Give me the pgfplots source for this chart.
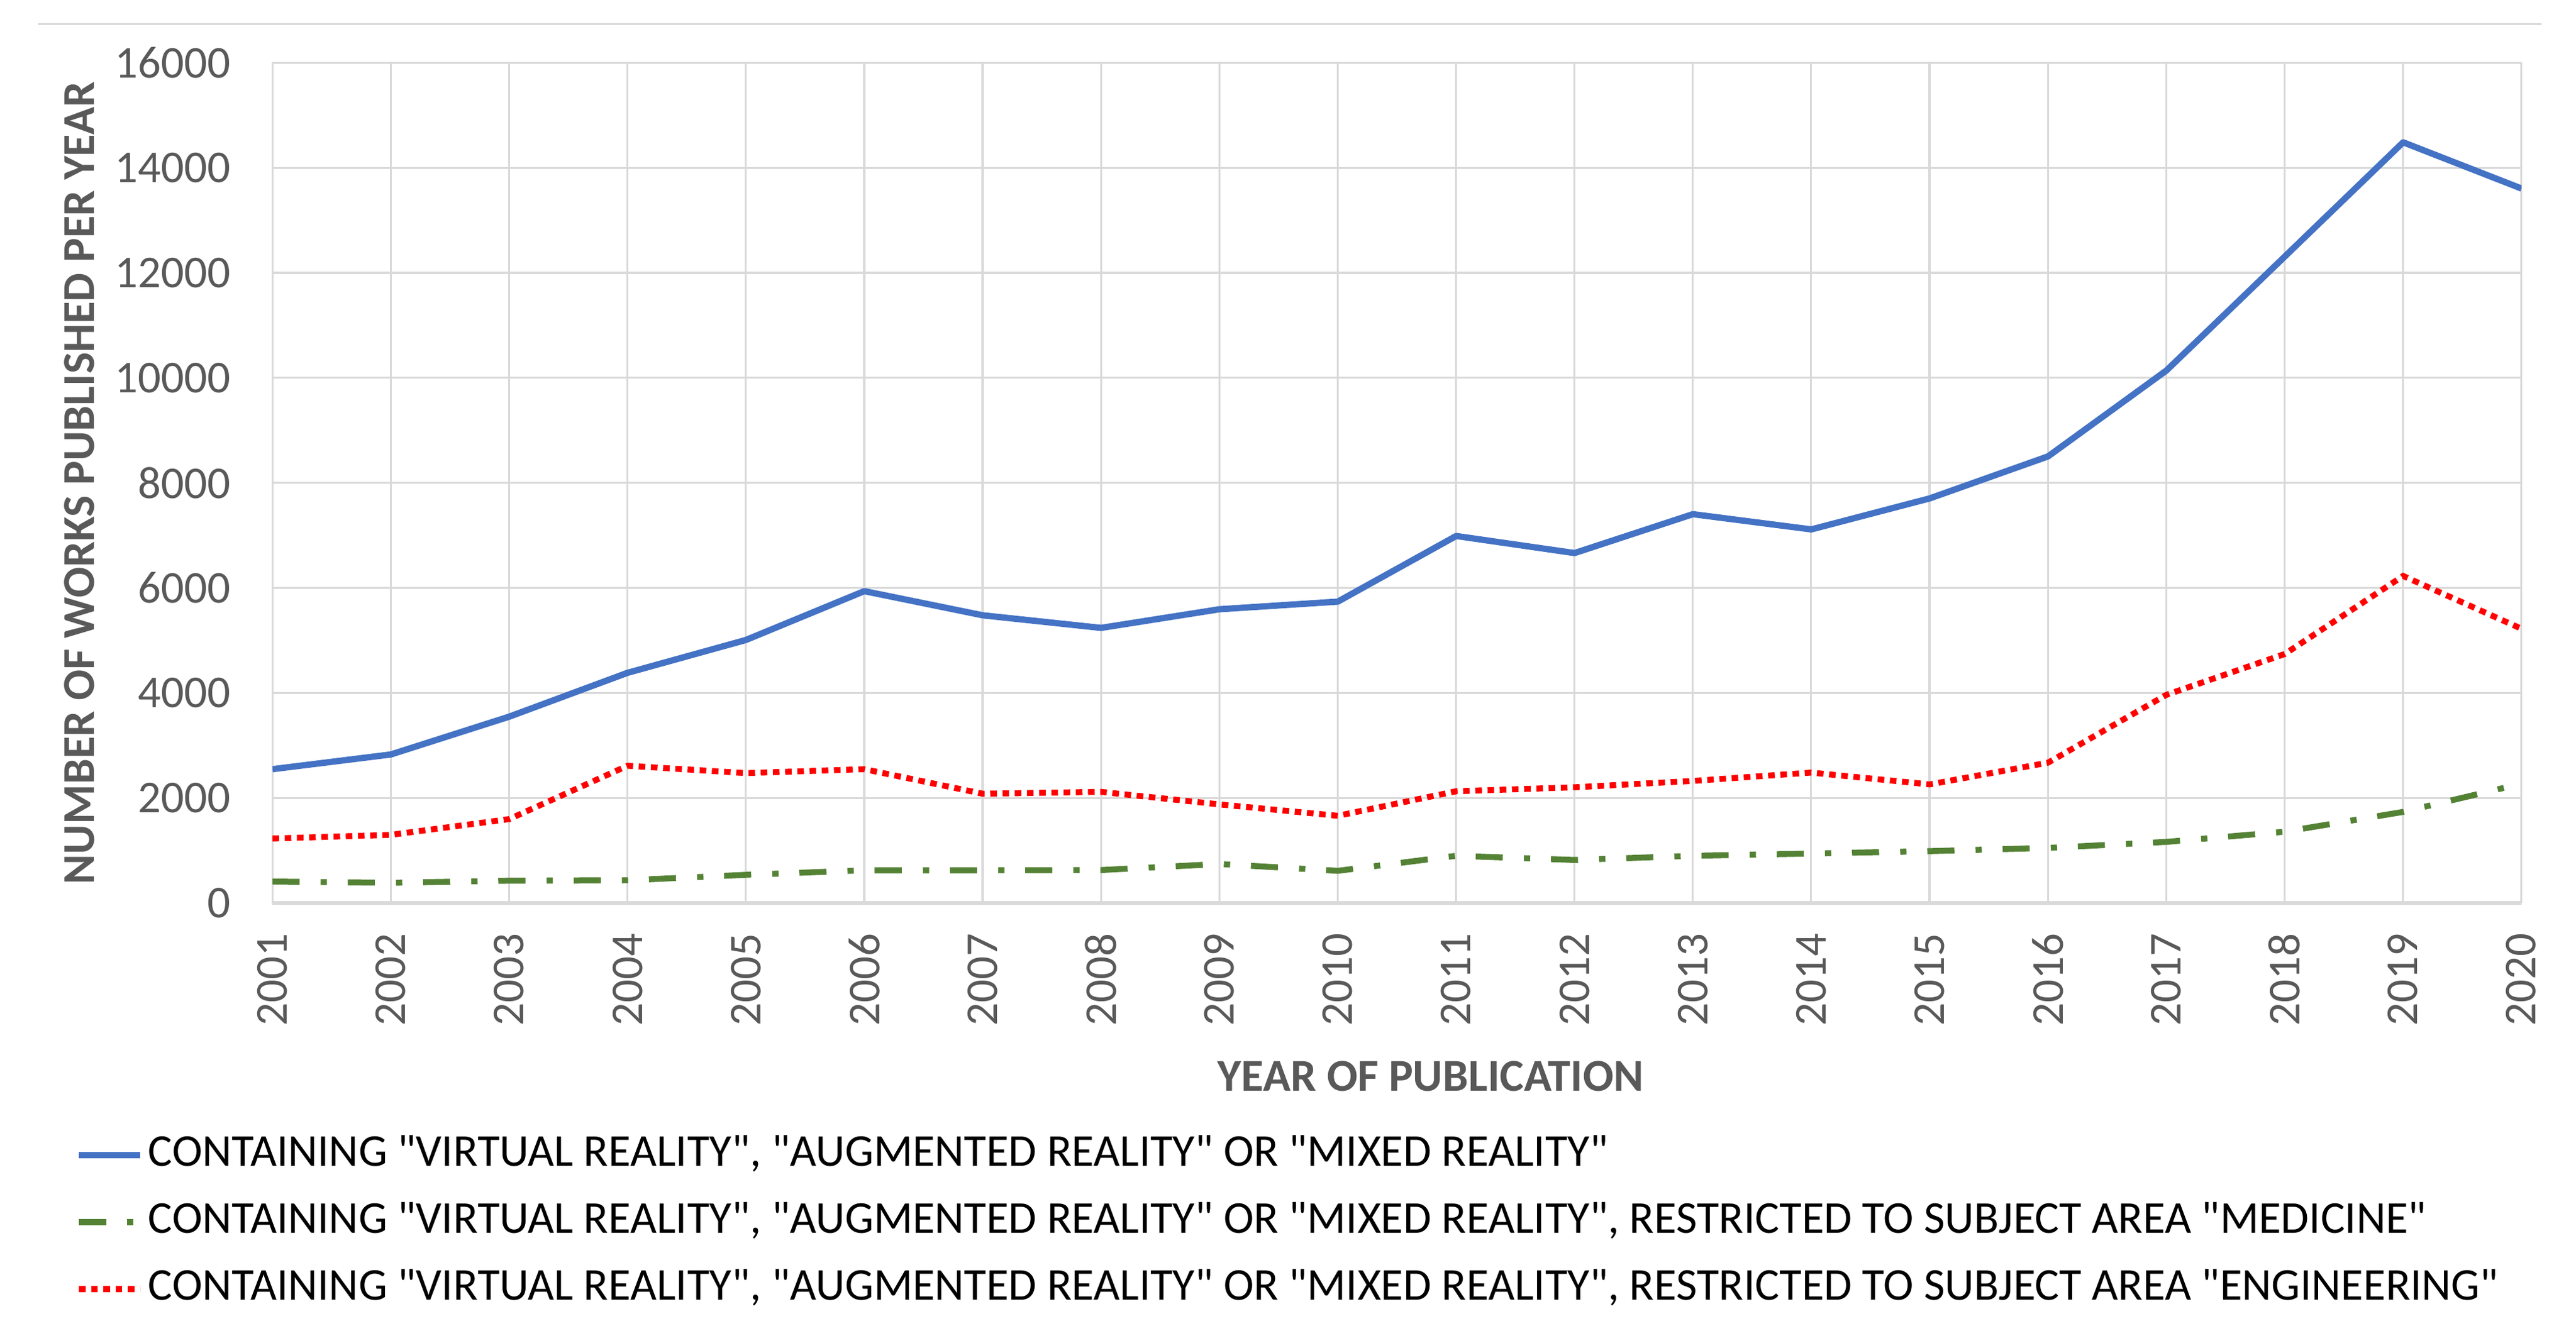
\documentclass[border=0pt]{standalone}
\usepackage{fontspec}
\setmainfont{Carlito}
\usepackage{pgfplots}
\pgfplotsset{compat=1.18}
\definecolor{vrblue}{HTML}{4472C4}
\definecolor{vrgreen}{HTML}{548235}
\definecolor{vrred}{HTML}{FF0000}
\definecolor{gridgray}{HTML}{D9D9D9}
\definecolor{textgray}{HTML}{595959}
\newcommand{\q}{\textquotedbl}
\newcommand{\chartfont}{\fontsize{13.8bp}{16bp}\selectfont}

\begin{document}
\begin{tikzpicture}
\useasboundingbox (0,0) rectangle (780bp,403bp);
% thin rule at the top of the chart area
\draw[gridgray, line width=0.6bp] (11.5bp,395.75bp) -- (769.5bp,395.75bp);
\begin{axis}[
    at={(82.5bp,129.5bp)}, anchor=south west,
    scale only axis, width=681bp, height=254.5bp,
    xmin=2001, xmax=2020, ymin=0, ymax=16000,
    xtick={2001,...,2020}, ytick={0,2000,...,16000},
    scaled y ticks=false,
    grid=major, grid style={gridgray, line width=0.6bp},
    major tick length=0pt,
    axis x line*=bottom, axis y line*=left,
    x axis line style={gridgray, line width=1.1bp, -},
    y axis line style={gridgray, line width=0.6bp, -},
    /pgf/number format/1000 sep={},
    /pgf/number format/assume math mode=true,
    xticklabel style={rotate=90, anchor=east, inner sep=0pt,
        font=\chartfont, text=textgray},
    xticklabel shift=9bp,
    yticklabel style={anchor=east, inner sep=0pt,
        font=\chartfont, text=textgray},
    yticklabel shift=12.5bp,
    xlabel={YEAR OF PUBLICATION},
    ylabel={NUMBER OF WORKS PUBLISHED PER YEAR},
    xlabel style={at={(axis description cs:0.515,-0.2063)}, anchor=center,
        font=\chartfont\bfseries, text=textgray},
    ylabel style={at={(axis description cs:-0.0859,0.5)}, anchor=center,
        font=\chartfont\bfseries, text=textgray},
    legend style={draw=none, fill=none,
        at={(axis description cs:-0.0874,-0.2735)}, anchor=north west,
        inner sep=0pt, outer sep=0pt, row sep=6.75bp, column sep=1.5bp,
        font=\chartfont, text=black,
        nodes={inner sep=0pt, text height=10bp, text depth=3.5bp}},
    legend cell align=left,
    legend image code/.code={\draw[#1] (0bp,0bp) -- (18.5bp,0bp);},
]
% all works
\addplot[vrblue, line width=1.9bp, line join=round] coordinates {
    (2001,2550) (2002,2830) (2003,3550) (2004,4385) (2005,5010)
    (2006,5940) (2007,5480) (2008,5240) (2009,5595) (2010,5740)
    (2011,6990) (2012,6665) (2013,7405) (2014,7115) (2015,7705)
    (2016,8505) (2017,10140) (2018,12310) (2019,14485) (2020,13605)
};
% medicine
\addplot[vrgreen, line width=1.8bp,
    dash pattern=on 8.2bp off 6.4bp on 1.9bp off 6.3bp] coordinates {
    (2001,411) (2002,387) (2003,427) (2004,435) (2005,539)
    (2006,625) (2007,625) (2008,630) (2009,745) (2010,615)
    (2011,901) (2012,822) (2013,901) (2014,944) (2015,990)
    (2016,1051) (2017,1166) (2018,1360) (2019,1737) (2020,2274)
};
% engineering
\addplot[vrred, line width=1.8bp, dash pattern=on 2bp off 1.7bp] coordinates {
    (2001,1230) (2002,1300) (2003,1600) (2004,2615) (2005,2475)
    (2006,2550) (2007,2083) (2008,2118) (2009,1880) (2010,1663)
    (2011,2130) (2012,2205) (2013,2326) (2014,2485) (2015,2260)
    (2016,2674) (2017,3966) (2018,4743) (2019,6229) (2020,5223)
};
\legend{{CONTAINING \q VIRTUAL REALITY\q, \q AUGMENTED REALITY\q\ OR \q MIXED REALITY\q},
    {CONTAINING \q VIRTUAL REALITY\q, \q AUGMENTED REALITY\q\ OR \q MIXED REALITY\q, RESTRICTED TO SUBJECT AREA \q MEDICINE\q},
    {CONTAINING \q VIRTUAL REALITY\q, \q AUGMENTED REALITY\q\ OR \q MIXED REALITY\q, RESTRICTED TO SUBJECT AREA \q ENGINEERING\q}}
\end{axis}
\end{tikzpicture}
\end{document}
